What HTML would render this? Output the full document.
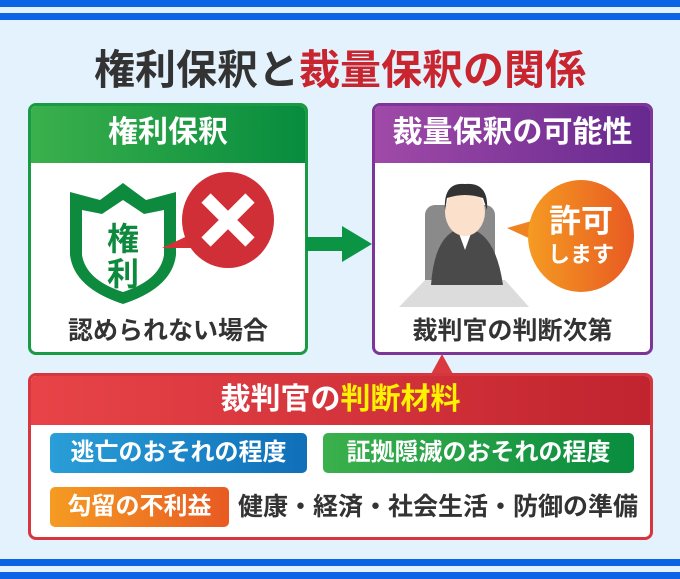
<!DOCTYPE html>
<html><head><meta charset="utf-8"><style>
body{margin:0;width:680px;height:579px;overflow:hidden;background:#e4f2fd;font-family:"Liberation Sans","Noto Sans CJK JP",sans-serif;position:relative}
.a{position:absolute}
.box{position:absolute;background:#fff;border-radius:8px;overflow:hidden}
.hd{position:absolute;left:0;right:0;top:0;color:#fff;font-weight:bold;font-size:30px;text-align:center}
.pill{position:absolute;border-radius:5px;color:#fff;font-weight:bold;font-size:24px;text-align:center;line-height:40px}
</style></head><body>
<div class="a" style="left:0;top:0;width:680px;height:7px;background:#0b63e6"></div>
<div class="a" style="left:0;top:13px;width:680px;height:7px;background:#0b63e6"></div>
<div class="a" style="left:0;top:559px;width:680px;height:7px;background:#0b63e6"></div>
<div class="a" style="left:0;top:572px;width:680px;height:7px;background:#0b63e6"></div>
<div class="a" style="left:0;top:36px;width:680px;text-align:center;font-size:41px;font-weight:bold;color:#333">権利保釈と<span style="color:#c9252f">裁量保釈の関係</span></div>

<div class="box" style="left:28px;top:103px;width:280px;height:252px;border:3px solid #1a9a45;box-sizing:border-box">
<div class="hd" style="height:57px;line-height:54px;background:linear-gradient(90deg,#3bb04c,#078c3e)">権利保釈</div>
<div class="a" style="left:0;right:0;top:205px;text-align:center;font-size:25px;font-weight:bold;color:#333">認められない場合</div>
</div>
<svg class="a" style="left:60px;top:168px" width="230" height="140">
<g transform="translate(0,12)">
<path d="M10 12 L40 20 L63 3 L86 20 L116 12 L116 75 Q112 108 63 124 Q14 108 10 75Z" fill="#0e8a3e"/>
<path d="M22 30 L42 34 L63 20 L84 34 L104 30 L104 75 Q100 100 63 112 Q26 100 22 75Z" fill="#fff"/>
<text x="63" y="70" font-size="32" font-weight="bold" fill="#0e8a3e" text-anchor="middle" font-family="Noto Sans CJK JP,sans-serif">権</text>
<text x="63" y="105" font-size="32" font-weight="bold" fill="#0e8a3e" text-anchor="middle" font-family="Noto Sans CJK JP,sans-serif">利</text>
</g>
<path d="M102 80 L140 62 L135 80Z" fill="#d63038"/>
<ellipse cx="168" cy="52" rx="46" ry="48" fill="#d02f38"/>
<path d="M146 30 L190 74 M190 30 L146 74" stroke="#fff" stroke-width="13"/>
</svg>
<svg class="a" style="left:306px;top:226px" width="68" height="36"><rect x="0" y="11" width="40" height="14" fill="#0a9444"/><path d="M36 0 L66 18 L36 36Z" fill="#0a9444"/></svg>

<div class="box" style="left:372px;top:103px;width:281px;height:252px;border:3px solid #7d3598;box-sizing:border-box">
<div class="hd" style="height:57px;line-height:54px;background:linear-gradient(90deg,#a04aa8,#67298f)">裁量保釈の可能性</div>
<div class="a" style="left:0;right:0;top:205px;text-align:center;font-size:25px;font-weight:bold;color:#333">裁判官の判断次第</div>
</div>
<svg class="a" style="left:395px;top:170px" width="250" height="140">
<defs><linearGradient id="og" x1="0" x2="1"><stop offset="0" stop-color="#f59b22"/><stop offset="1" stop-color="#e85a22"/></linearGradient></defs>
<rect x="30" y="35" width="70" height="95" rx="10" fill="#8a8a8a"/>
<path d="M4 137 L30 110 L110 110 L134 137Z" fill="#dcdcdc"/>
<path d="M36 115 Q40 60 70 58 Q100 60 108 115Z" fill="#4a4a4a"/>
<path d="M62 58 L70 80 L78 58Z" fill="#fff"/>
<ellipse cx="70" cy="42" rx="20" ry="24" fill="#fbe0cb"/>
<path d="M50 40 Q48 12 70 14 Q94 12 92 40 L88 28 Q70 22 52 28Z" fill="#333"/>
<path d="M112 58 L140 50 L138 70Z" fill="#f08220"/>
<ellipse cx="186" cy="66" rx="53" ry="56" fill="url(#og)"/>
<text x="186" y="62" font-size="32" font-weight="bold" fill="#fff" text-anchor="middle" font-family="Noto Sans CJK JP,sans-serif">許可</text>
<text x="186" y="92" font-size="22" font-weight="bold" fill="#fff" text-anchor="middle" font-family="Noto Sans CJK JP,sans-serif">します</text>
</svg>

<svg class="a" style="left:430px;top:354px" width="24" height="22"><path d="M12 0 L24 22 L0 22Z" fill="#d93a3f"/></svg>
<div class="box" style="left:28px;top:373px;width:625px;height:167px;border:3px solid #d6373e;box-sizing:border-box">
<div class="hd" style="height:49px;line-height:47px;background:linear-gradient(90deg,#e84448,#c1242f)">裁判官の<span style="color:#fff200">判断材料</span></div>
</div>
<div class="pill" style="left:50px;top:433px;width:257px;background:linear-gradient(90deg,#2a9ed8,#0f6fb8)">逃亡のおそれの程度</div>
<div class="pill" style="left:323px;top:433px;width:311px;background:linear-gradient(90deg,#3bb04c,#088c3e)">証拠隠滅のおそれの程度</div>
<div class="pill" style="left:50px;top:487px;width:179px;background:linear-gradient(90deg,#f59b22,#e85a22)">勾留の不利益</div>
<div class="a" style="left:238px;top:492px;font-size:25px;font-weight:bold;color:#333;line-height:30px;white-space:nowrap">健康・経済・社会生活・防御の準備</div>
</body></html>
